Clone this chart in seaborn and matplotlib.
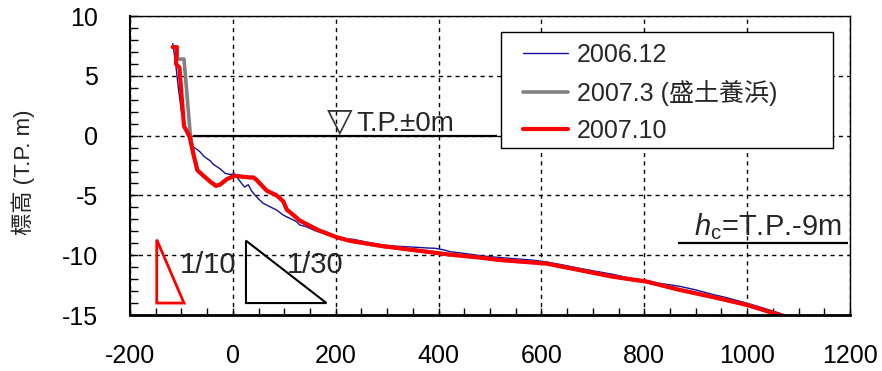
import matplotlib
matplotlib.use("Agg")
import matplotlib.pyplot as plt
import matplotlib.patches as patches
from matplotlib.ticker import MultipleLocator
import seaborn as sns
import pandas as pd

# cross-shore profiles (distance m, elevation T.P. m)
blue_x = [-117, -112, -106, -100, -94, -88, -83, -77, -70, -64, -57, -51, -44, -38, -31, -24,
          -15, -5, 3, 10, 17, 23, 30, 36, 43, 50, 59, 70, 85, 98, 105, 115, 124, 130, 143,
          160, 195, 215, 234, 260, 292, 320, 357, 380, 393, 410, 422, 450, 487, 520, 550,
          580, 610, 640, 675, 700, 739, 770, 800, 830, 869, 900, 935, 960, 999, 1030, 1060, 1080]
blue_y = [7.7, 6.3, 4.0, 2.0, 0.8, 0.0, -0.4, -0.95, -1.15, -1.35, -1.7, -1.9, -2.1, -2.4, -2.6,
          -2.8, -3.15, -3.25, -3.2, -3.6, -4.0, -4.3, -4.1, -4.6, -4.97, -5.3, -5.66, -5.9,
          -6.22, -6.64, -6.8, -7.0, -7.2, -7.47, -7.62, -7.95, -8.45, -8.6, -8.67, -8.9, -9.15,
          -9.25, -9.34, -9.4, -9.42, -9.55, -9.7, -9.85, -10.07, -10.2, -10.3, -10.4, -10.56,
          -10.8, -11.1, -11.3, -11.6, -11.9, -12.1, -12.35, -12.6, -12.9, -13.3, -13.55, -14.0,
          -14.4, -14.8, -15.1]

red_x = [-117, -109, -110.5, -104, -95, -84, -77, -69, -56, -44, -33, -25, -12, 3, 17, 33, 40,
         46, 59, 66, 85, 92, 98, 105, 111, 130, 150, 166, 202, 228, 292, 357, 422, 481, 519,
         610, 675, 739, 804, 869, 934, 999, 1063, 1072]
red_y = [7.4, 7.4, 6.0, 5.7, 0.8, -0.1, -1.5, -2.9, -3.4, -3.85, -4.2, -4.1, -3.65, -3.35,
         -3.43, -3.5, -3.5, -3.7, -4.3, -4.6, -5.0, -5.25, -5.5, -6.2, -6.4, -7.1, -7.55, -7.9,
         -8.5, -8.8, -9.25, -9.6, -9.95, -10.2, -10.4, -10.7, -11.25, -11.8, -12.2, -12.9,
         -13.5, -14.15, -15.0, -15.1]

# 2007.3 (after nourishment) differs only at the top, elsewhere it lies under 2007.10
grey_x = [-117, -109, -108, -95, -83] + red_x[6:]
grey_y = [7.4, 7.4, 6.4, 6.4, 0.2] + red_y[6:]

labels = ["2006.12", "2007.3 (盛土養浜)", "2007.10"]
colors = ["#10109a", "#808080", "#ff0000"]
widths = [1.0, 2.6, 3.0]

x_ticks = [-200, 0, 200, 400, 600, 800, 1000, 1200]
y_ticks = [-15, -10, -5, 0, 5, 10]

msl = 0.0          # T.P. ±0m
hc = -9.0          # closure depth
slope_a = (-148, -14.0, 0.1, 53)     # origin x, origin y, slope, base length
slope_b = (25.5, -14.0, 1 / 30, 156.5)

sns.set_theme(style="white")
plt.rcParams["font.family"] = ["Liberation Sans", "Noto Sans CJK JP", "DejaVu Sans"]
plt.rcParams["axes.unicode_minus"] = False
plt.rcParams["mathtext.fontset"] = "custom"
plt.rcParams["mathtext.rm"] = "Liberation Sans"
plt.rcParams["mathtext.it"] = "Liberation Sans:italic"

fig = plt.figure(figsize=(8.82, 3.71), dpi=100)
ax = fig.add_axes([0.1474, 0.1509, 0.8163, 0.8059])

for xs, ys, lab, col, lw in zip([blue_x, grey_x, red_x], [blue_y, grey_y, red_y],
                                labels, colors, widths):
    df = pd.DataFrame({"x": xs, "y": ys})
    sns.lineplot(data=df, x="x", y="y", sort=False, estimator=None, color=col,
                 linewidth=lw, label=lab, ax=ax)

ax.set_xlim(-200, 1200)
ax.set_ylim(-15, 10)
ax.set_xticks(x_ticks)
ax.set_yticks(y_ticks)
ax.xaxis.set_minor_locator(MultipleLocator(50))
ax.yaxis.set_minor_locator(MultipleLocator(1))
ax.tick_params(axis="both", which="both", direction="in", colors="black", labelsize=18,
               bottom=True, left=True, top=False, right=False)
ax.tick_params(axis="x", which="both", length=5, width=1, pad=21)
ax.tick_params(axis="y", which="both", length=6, width=1, pad=23)
ax.set_xlabel("")
ax.set_ylabel("")
ax.set_axisbelow(True)
ax.grid(True, which="major", color="black", linestyle=(0, (3, 3)), linewidth=1)
for side, lw in [("bottom", 2.0), ("left", 1.5), ("top", 1.0), ("right", 1.0)]:
    ax.spines[side].set_color("black")
    ax.spines[side].set_linewidth(lw)

# reference levels
ax.hlines(msl, -77, 513, color="black", linewidth=1.6, zorder=3)
ax.text(182, msl + 0.4, "▽", fontsize=24, ha="left", va="baseline",
        family=["DejaVu Sans"], color="#333333")
ax.text(240, msl + 0.4, "T.P.±0m", fontsize=20, ha="left", va="baseline")
ax.hlines(hc, 865, 1196, color="black", linewidth=1.6, zorder=3)
ax.text(896, hc + 0.7, r"$h_{\mathrm{c}}$=T.P.-9m", fontsize=21, ha="left", va="baseline")

# slope triangles
for (x0, y0, s, L), col, lw, txt, tx in [(slope_a, "#ff0000", 2.0, "1/10", -103),
                                         (slope_b, "black", 1.5, "1/30", 105)]:
    tri = patches.Polygon([(x0, y0 + s * L), (x0, y0), (x0 + L, y0)], closed=True,
                          fill=False, edgecolor=col, linewidth=lw, zorder=3)
    ax.add_patch(tri)
    ax.text(tx, -11.5, txt, fontsize=21, ha="left", va="baseline")

# legend with its own box
box = patches.Rectangle((0.5153, 0.5585), 0.4611, 0.388, transform=ax.transAxes,
                        facecolor="white", edgecolor="black", linewidth=1.0, zorder=4.5)
ax.add_patch(box)
handles, labs = ax.get_legend_handles_labels()
leg = ax.legend(handles, labs, loc="upper left", bbox_to_anchor=(0.5458, 0.9097),
                frameon=False, fontsize=18, handlelength=1.8, handletextpad=0.36,
                labelspacing=0.52, borderpad=0, borderaxespad=0)
leg.set_zorder(5)

fig.text(23 / 882, 1 - 172 / 371, "標高 (T.P. m)", rotation=90, ha="center", va="center",
         fontsize=16, color="#222222")

fig.savefig("out.png", dpi=100)
